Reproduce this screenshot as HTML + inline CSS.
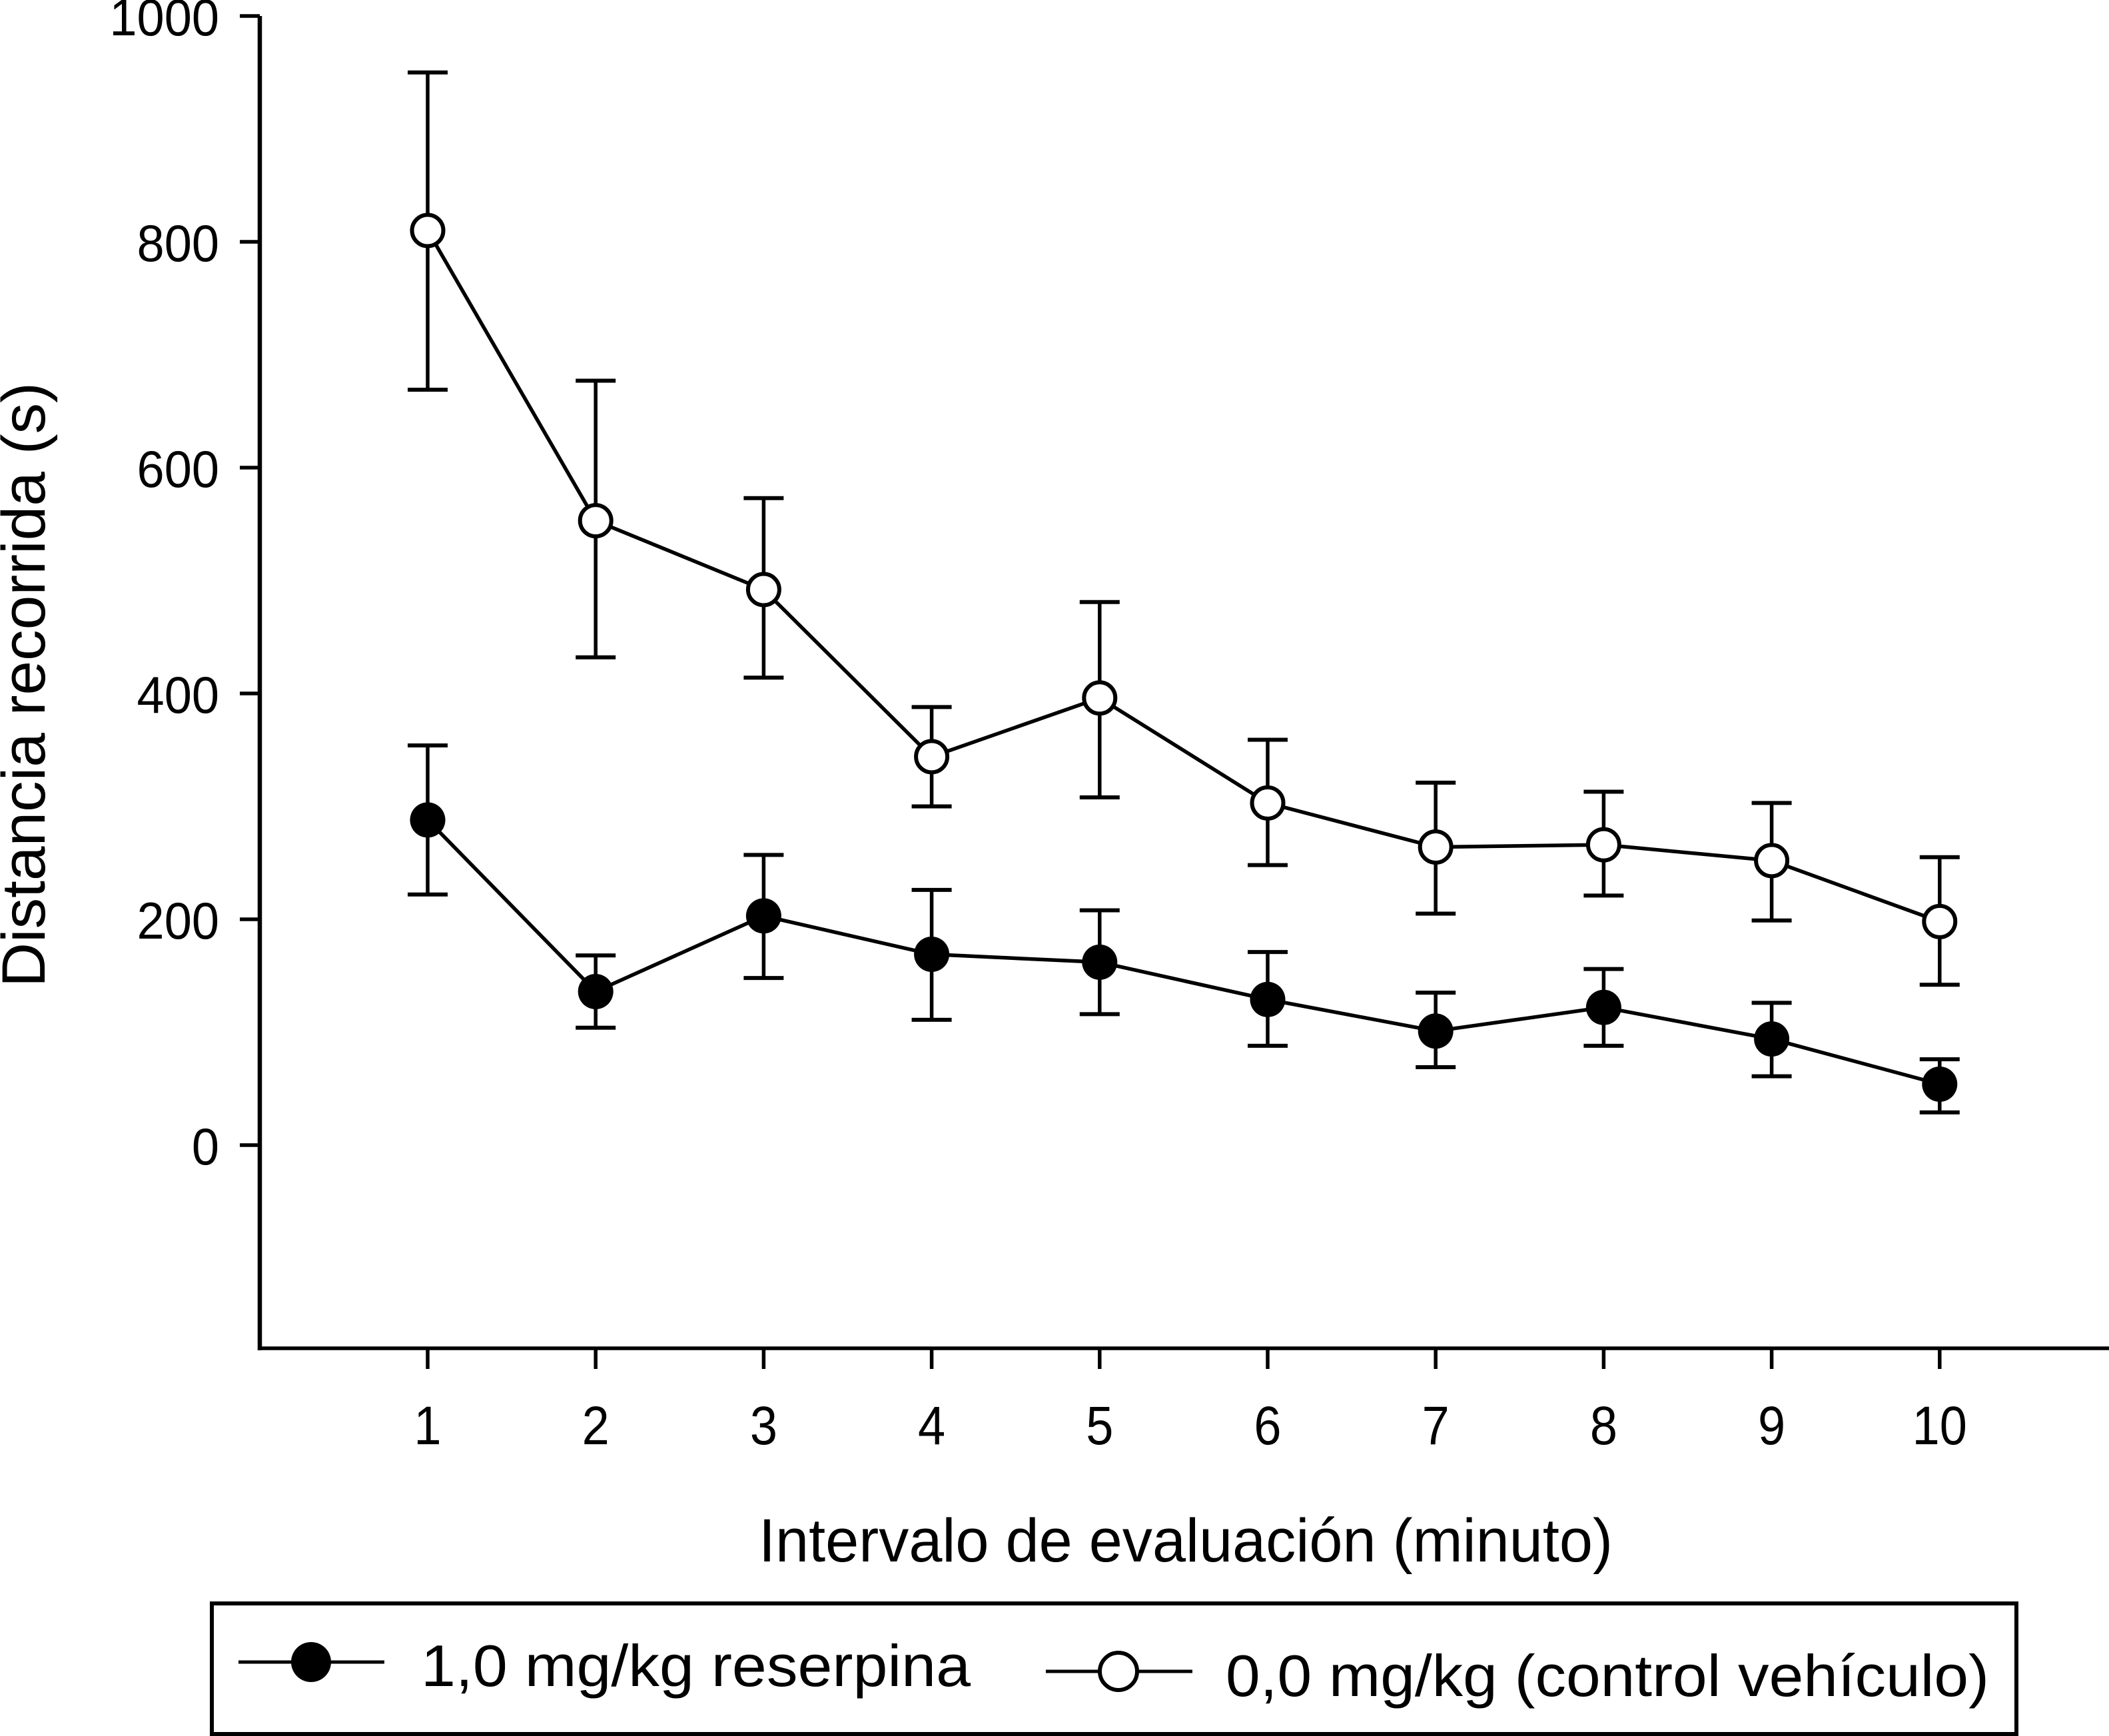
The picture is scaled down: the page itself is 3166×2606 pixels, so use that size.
<!DOCTYPE html>
<html lang="es">
<head>
<meta charset="utf-8">
<title>Distancia recorrida por intervalo de evaluación</title>
<style>
html,body{margin:0;padding:0;background:#fff;width:3166px;height:2606px;overflow:hidden}
svg{display:block}
text{font-family:"Liberation Sans",sans-serif;fill:#000}
</style>
</head>
<body>
<svg id="chart" xmlns="http://www.w3.org/2000/svg" width="3166" height="2606" viewBox="0 0 3166 2606">
  <rect x="0" y="0" width="3166" height="2606" fill="#fff"/>
  <text x="1139" y="2344" font-size="92" textLength="1282" lengthAdjust="spacingAndGlyphs">Intervalo de evaluación (minuto)</text>
  <text transform="translate(67,1482) rotate(-90)" font-size="92" textLength="908" lengthAdjust="spacingAndGlyphs">Distancia recorrida (s)</text>
  <g>
    <rect x="318" y="2407" width="2709" height="196" fill="#fff" stroke="#000" stroke-width="6"/>
    <g>
      <line x1="358" y1="2495" x2="577" y2="2495" stroke="#000" stroke-width="5"/>
      <circle cx="467" cy="2495" r="30" fill="#000"/>
      <text x="632" y="2531" font-size="88" textLength="825" lengthAdjust="spacingAndGlyphs">1,0 mg/kg reserpina</text>
    </g>
    <g>
      <line x1="1570" y1="2509" x2="1790" y2="2509" stroke="#000" stroke-width="5"/>
      <circle cx="1679" cy="2509" r="28" fill="#fff" stroke="#000" stroke-width="6"/>
      <text x="1840" y="2546" font-size="88" textLength="1146" lengthAdjust="spacingAndGlyphs">0,0 mg/kg (control vehículo)</text>
    </g>
  </g>
</svg>
<script>
const minutes = [1, 2, 3, 4, 5, 6, 7, 8, 9, 10];
const yTicks = [0, 200, 400, 600, 800, 1000];
const controlMean = [810, 553, 492, 344, 396, 303, 264, 266, 252, 198];
const controlUpper = [950, 677, 573, 388, 481, 359, 321, 313, 303, 255];
const controlLower = [669, 432, 414, 300, 308, 248, 205, 221, 199, 142];
const reserpinaMean = [288, 136, 203, 169, 162, 129, 101, 122, 94, 54];
const reserpinaUpper = [354, 168, 257, 226, 208, 171, 135, 156, 126, 76];
const reserpinaLower = [222, 104, 148, 111, 116, 88, 69, 88, 61, 29];

const NS = 'http://www.w3.org/2000/svg';
const svg = document.getElementById('chart');
const xScale = function (t) { return 642 + (t - 1) * 252.2; };
const yScale = function (v) { return 1719 - v * 1.695; };

function shape(tag, attrs, parent) {
  const el = document.createElementNS(NS, tag);
  Object.keys(attrs).forEach(function (k) { el.setAttribute(k, attrs[k]); });
  (parent || svg).appendChild(el);
  return el;
}

const yAxisGroup = shape('g', {});


const yAxisLine = shape('line', { x1: 390, y1: 24, x2: 390, y2: 2027, stroke: '#000', 'stroke-width': 6.5 }, yAxisGroup);



yTicks.forEach(function (v) {
  const tick = shape('line', { x1: 360, y1: yScale(v), x2: 390, y2: yScale(v), stroke: '#000', 'stroke-width': 5.5 }, yAxisGroup);
  
  
  const label = shape('text', { transform: 'translate(329,' + (yScale(v) + 29) + ') scale(1,1.05)', 'font-size': 74, 'text-anchor': 'end' }, yAxisGroup);
  
  
  label.textContent = String(v);
});

const xAxisGroup = shape('g', {});


const xAxisLine = shape('line', { x1: 387, y1: 2024, x2: 3166, y2: 2024, stroke: '#000', 'stroke-width': 5.5 }, xAxisGroup);



minutes.forEach(function (t) {
  const tick = shape('line', { x1: xScale(t), y1: 2024, x2: xScale(t), y2: 2055, stroke: '#000', 'stroke-width': 5.5 }, xAxisGroup);
  
  
  const label = shape('text', { transform: 'translate(' + xScale(t) + ',2168) scale(1,1.1)', 'font-size': 74, 'text-anchor': 'middle' }, xAxisGroup);
  
  
  label.textContent = String(t);
});

function drawBars(group, upper, lower) {
  minutes.forEach(function (t, i) {
    const x = xScale(t);
    const stem = shape('line', { x1: x, y1: yScale(upper[i]), x2: x, y2: yScale(lower[i]), stroke: '#000', 'stroke-width': 5.5 }, group);
    
    
    const capTop = shape('line', { x1: x - 30, y1: yScale(upper[i]), x2: x + 30, y2: yScale(upper[i]), stroke: '#000', 'stroke-width': 6 }, group);
    
    
    const capBottom = shape('line', { x1: x - 30, y1: yScale(lower[i]), x2: x + 30, y2: yScale(lower[i]), stroke: '#000', 'stroke-width': 6 }, group);
    
    
  });
}

function drawLine(group, mean) {
  const pts = minutes.map(function (t, i) { return xScale(t) + ',' + yScale(mean[i]); }).join(' ');
  const poly = shape('polyline', { points: pts, fill: 'none', stroke: '#000', 'stroke-width': 5.5 }, group);
  
  
}

const reserpinaGroup = shape('g', {});


drawBars(reserpinaGroup, reserpinaUpper, reserpinaLower);
drawLine(reserpinaGroup, reserpinaMean);
minutes.forEach(function (t, i) {
  const dot = shape('circle', { cx: xScale(t), cy: yScale(reserpinaMean[i]), r: 26.5, fill: '#000' }, reserpinaGroup);
  
  
});

const controlGroup = shape('g', {});


drawBars(controlGroup, controlUpper, controlLower);
drawLine(controlGroup, controlMean);
minutes.forEach(function (t, i) {
  const dot = shape('circle', { cx: xScale(t), cy: yScale(controlMean[i]), r: 23.5, fill: '#fff', stroke: '#000', 'stroke-width': 6 }, controlGroup);
  
  
});
</script>
</body>
</html>
